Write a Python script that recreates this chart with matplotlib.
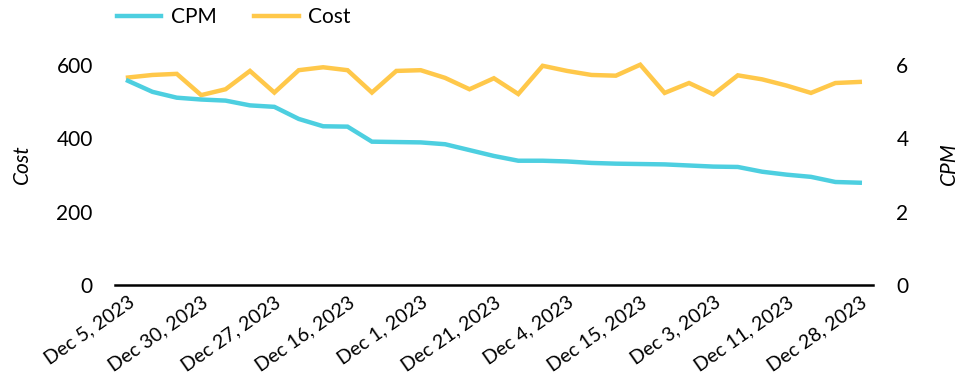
import matplotlib.pyplot as plt

plt.rcParams['font.family'] = ['Lato', 'DejaVu Sans']

# days sorted by CPM, highest first
dates = [
    "Dec 5, 2023", "Dec 2, 2023", "Dec 6, 2023", "Dec 30, 2023", "Dec 7, 2023",
    "Dec 8, 2023", "Dec 27, 2023", "Dec 9, 2023", "Dec 10, 2023", "Dec 16, 2023",
    "Dec 12, 2023", "Dec 13, 2023", "Dec 1, 2023", "Dec 14, 2023", "Dec 17, 2023",
    "Dec 21, 2023", "Dec 18, 2023", "Dec 19, 2023", "Dec 4, 2023", "Dec 20, 2023",
    "Dec 22, 2023", "Dec 15, 2023", "Dec 23, 2023", "Dec 24, 2023", "Dec 3, 2023",
    "Dec 25, 2023", "Dec 26, 2023", "Dec 11, 2023", "Dec 29, 2023", "Dec 31, 2023",
    "Dec 28, 2023",
]
cost = [
    566, 573, 576, 518, 534, 584, 525, 586, 594, 586,
    525, 584, 586, 565, 534, 564, 521, 598, 584, 573,
    571, 601, 524, 551, 520, 572, 561, 544, 524, 551,
    554,
]
cpm = [
    5.57, 5.27, 5.11, 5.06, 5.03, 4.90, 4.86, 4.53, 4.33, 4.32,
    3.91, 3.90, 3.89, 3.84, 3.68, 3.52, 3.39, 3.39, 3.37, 3.33,
    3.31, 3.30, 3.29, 3.26, 3.23, 3.22, 3.09, 3.01, 2.95, 2.81,
    2.79,
]

cpm_color = "#4dcfe0"
cost_color = "#ffc84a"

fig = plt.figure(figsize=(9.59, 3.88), dpi=100)
ax = fig.add_axes([0.12, 0.2655, 0.79, 0.6235])
ax2 = ax.twinx()

x = list(range(len(dates)))
l_cost, = ax.plot(x, cost, color=cost_color, lw=3.2, solid_joinstyle="miter", zorder=3)
l_cpm, = ax2.plot(x, cpm, color=cpm_color, lw=3.2, solid_joinstyle="miter", zorder=3)

ax.set_xlim(-0.53, len(dates) - 1 + 0.53)
ax.set_ylim(0, 660)
ax2.set_ylim(0, 6.6)
ax.set_yticks([0, 200, 400, 600])
ax2.set_yticks([0, 2, 4, 6])

ax.set_xticks(x[::3])
ax.set_xticklabels(dates[::3], rotation=35, ha="right", rotation_mode="anchor")

for a in (ax, ax2):
    for s in ("top", "left", "right", "bottom"):
        a.spines[s].set_visible(False)
ax.spines["bottom"].set_visible(True)
ax.spines["bottom"].set_linewidth(1.8)
ax.tick_params(axis="y", length=0, pad=16, labelsize=15)
ax2.tick_params(axis="y", length=0, pad=17, labelsize=15)
ax.tick_params(axis="x", length=0, pad=6, labelsize=14)

ax.set_ylabel("Cost", fontsize=15, style="italic", labelpad=18)
ax2.set_ylabel("CPM", fontsize=15, style="italic", labelpad=22)

fig.legend([l_cpm, l_cost], ["CPM", "Cost"], loc="upper left",
           bbox_to_anchor=(0.102, 1.03), ncol=2, frameon=False,
           fontsize=15, handlelength=2.15, columnspacing=1.8, handletextpad=0.45)

fig.savefig("out.png", dpi=100)
